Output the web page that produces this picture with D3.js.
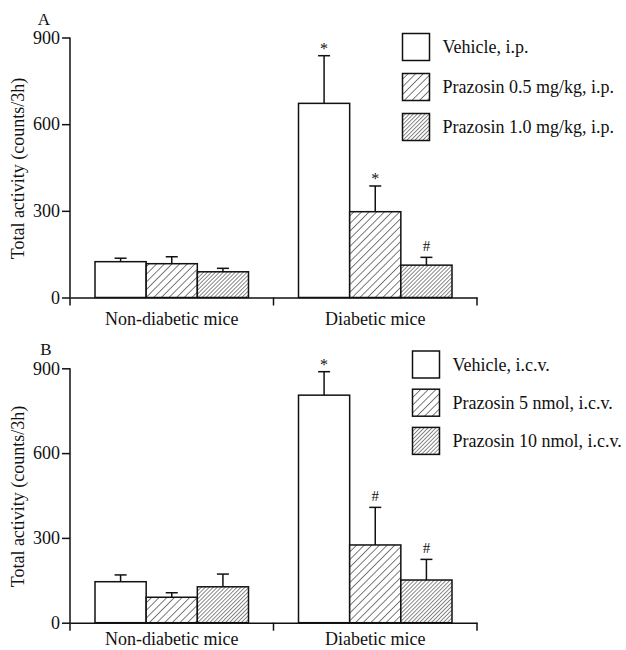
<!DOCTYPE html>
<html>
<head>
<meta charset="utf-8">
<script src="https://cdn.jsdelivr.net/npm/d3@7"></script>
<style>
  html, body { margin: 0; padding: 0; background: #fff; }
  svg { display: block; }
  text { font-family: "Liberation Serif", "Times New Roman", serif; fill: #111; }
</style>
</head>
<body>
<script>
// ---------- data ----------
const categories = ["Non-diabetic mice", "Diabetic mice"];
const yTicks = [0, 300, 600, 900];
const yLabel = "Total activity (counts/3h)";

const seriesNamesA = ["Vehicle, i.p.", "Prazosin 0.5 mg/kg, i.p.", "Prazosin 1.0 mg/kg, i.p."];
const meansA  = [[124, 672], [117, 297], [89, 112]];
const errorsA = [[12, 165], [24, 89], [12, 27]];
const marksA  = [["", "*"], ["", "*"], ["", "#"]];

const seriesNamesB = ["Vehicle, i.c.v.", "Prazosin 5 nmol, i.c.v.", "Prazosin 10 nmol, i.c.v."];
const meansB  = [[145, 805], [90, 275], [127, 151]];
const errorsB = [[24, 83], [16, 133], [45, 73]];
const marksB  = [["", "*"], ["", "#"], ["", "#"]];

const fills = ["#fff", "url(#hatchSparse)", "url(#hatchDense)"];

// ---------- svg ----------
const W = 626, H = 650;
const svg = d3.select("body").append("svg").attr("width", W).attr("height", H);

const defs = svg.append("defs");
function hatch(id, spacing, sw) {
  const p = defs.append("pattern")
    .attr("id", id)
    .attr("patternUnits", "userSpaceOnUse")
    .attr("width", spacing).attr("height", spacing)
    .attr("patternTransform", "rotate(45)");
  p.append("rect").attr("width", spacing).attr("height", spacing).attr("fill", "#fff");
  p.append("line").attr("x1", 0).attr("y1", 0).attr("x2", 0).attr("y2", spacing)
    .attr("stroke", "#111").attr("stroke-width", sw);
}
hatch("hatchSparse", 5.4, 1.1);
hatch("hatchDense", 2.8, 1.0);

function panel(cfg) {
  const g = svg.append("g");
  const x = d3.scaleBand().domain(categories).range([cfg.x0, cfg.x1]).paddingInner(0).paddingOuter(0);
  const inner = d3.scaleBand().domain(d3.range(3)).range([25, x.bandwidth() - 25]).padding(0);
  const y = d3.scaleLinear().domain([0, 900]).range([cfg.yBottom, cfg.yTop]);

  // bars
  cfg.means.forEach((vals, s) => {
    categories.forEach((c, i) => {
      const bx = x(c) + inner(s);
      g.append("rect")
        .attr("x", bx).attr("y", y(vals[i]))
        .attr("width", inner.bandwidth())
        .attr("height", y(0) - y(vals[i]))
        .attr("fill", fills[s])
        .attr("stroke", "#111").attr("stroke-width", 1.5);
      const cx = bx + inner.bandwidth() / 2;
      const top = y(vals[i] + cfg.errors[s][i]);
      g.append("line").attr("x1", cx).attr("x2", cx)
        .attr("y1", y(vals[i])).attr("y2", top)
        .attr("stroke", "#111").attr("stroke-width", 1.5);
      g.append("line").attr("x1", cx - 6).attr("x2", cx + 6)
        .attr("y1", top).attr("y2", top)
        .attr("stroke", "#111").attr("stroke-width", 1.5);
      const m = cfg.marks[s][i];
      if (m) {
        g.append("text").attr("x", cx).attr("y", m === "*" ? top - 2 : top - 6)
          .attr("text-anchor", "middle")
          .style("font-size", m === "*" ? "16px" : "15px")
          .text(m);
      }
    });
  });

  // y axis
  const yAxis = d3.axisLeft(y).tickValues(yTicks).tickSize(8).tickSizeOuter(0).tickPadding(2);
  const ya = g.append("g").attr("transform", `translate(${cfg.x0},0)`).call(yAxis);
  ya.select(".domain").attr("d", `M0,${cfg.yTop}V${cfg.yBottom + 8}`);
  ya.selectAll("path,line").attr("stroke", "#111").attr("stroke-width", 1.5);
  ya.selectAll("text").style("font-size", "18px").attr("fill", "#111")
    .style("font-family", "'Liberation Serif', 'Times New Roman', serif");

  // x axis
  const xAxis = d3.axisBottom(x).tickSize(0).tickSizeOuter(0).tickPadding(cfg.xPad);
  const xa = g.append("g").attr("transform", `translate(0,${cfg.yBottom})`).call(xAxis);
  xa.select(".domain").attr("stroke", "#111").attr("stroke-width", 1.5);
  xa.selectAll("text").style("font-size", "18px").attr("fill", "#111")
    .style("font-family", "'Liberation Serif', 'Times New Roman', serif");
  // boundary ticks
  const bounds = categories.slice(1).map(c => x(c)).concat([x.range()[1]]);
  xa.selectAll("line.bound").data(bounds).enter().append("line")
    .attr("class", "bound")
    .attr("x1", d => d).attr("x2", d => d).attr("y1", 0).attr("y2", 8)
    .attr("stroke", "#111").attr("stroke-width", 1.5);

  // y label
  g.append("text")
    .attr("transform", `translate(${cfg.yLabelX},${(cfg.yTop + cfg.yBottom) / 2 + 1}) rotate(-90)`)
    .attr("text-anchor", "middle")
    .style("font-size", "18px")
    .text(yLabel);

  // panel letter
  g.append("text").attr("x", cfg.letterX).attr("y", cfg.letterY)
    .attr("text-anchor", "middle").style("font-size", "17px").text(cfg.letter);

  // legend
  cfg.names.forEach((n, s) => {
    const ly = cfg.legY + s * cfg.legStep;
    g.append("rect").attr("x", cfg.legX).attr("y", ly)
      .attr("width", 27).attr("height", 27)
      .attr("fill", fills[s]).attr("stroke", "#111").attr("stroke-width", 1.5);
    g.append("text").attr("x", cfg.legX + 40).attr("y", ly + 13.5 + 6)
      .style("font-size", "18px").text(n);
  });
}

panel({
  x0: 70, x1: 477, yTop: 37.5, yBottom: 297.5, xPad: 14.5,
  means: meansA, errors: errorsA, marks: marksA, names: seriesNamesA,
  yLabelX: 24, letter: "A", letterX: 44, letterY: 25,
  legX: 402.5, legY: 33.5, legStep: 40
});
panel({
  x0: 70, x1: 477, yTop: 368.3, yBottom: 622.7, xPad: 10,
  means: meansB, errors: errorsB, marks: marksB, names: seriesNamesB,
  yLabelX: 24, letter: "B", letterX: 46, letterY: 355,
  legX: 412.5, legY: 351, legStep: 38.2
});
</script>
</body>
</html>
